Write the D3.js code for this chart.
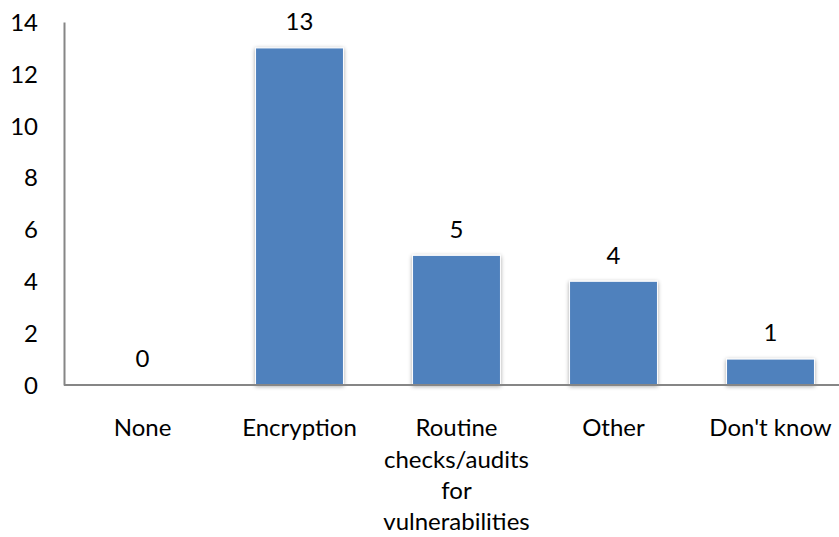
<!DOCTYPE html>
<html><head><meta charset="utf-8">
<script src="https://cdn.jsdelivr.net/npm/d3@7"></script>
<style>body{margin:0;background:#fff}svg{display:block}text{font-family:Lato,"Open Sans",sans-serif;fill:#000}</style>
</head><body>
<script>
const categories = ["None", "Encryption", "Routine checks/audits for vulnerabilities", "Other", "Don't know"];
const categoryLines = [["None"], ["Encryption"], ["Routine", "checks/audits", "for", "vulnerabilities"], ["Other"], ["Don't know"]];
const values = [0, 13, 5, 4, 1];
const yTicks = [0, 2, 4, 6, 8, 10, 12, 14];

const W = 839, H = 537, FS = "24px";
const svg = d3.select("body").append("svg").attr("width", W).attr("height", H);
const defs = svg.append("defs");
const f = defs.append("filter").attr("id", "sh").attr("x", "-20%").attr("y", "-20%").attr("width", "140%").attr("height", "140%");
f.append("feGaussianBlur").attr("in", "SourceAlpha").attr("stdDeviation", 2.2).attr("result", "b");
f.append("feOffset").attr("in", "b").attr("dx", 0).attr("dy", 1).attr("result", "o");
f.append("feComponentTransfer").attr("in", "o").attr("result", "o2").append("feFuncA").attr("type", "linear").attr("slope", 0.35);
const m = f.append("feMerge"); m.append("feMergeNode").attr("in", "o2"); m.append("feMergeNode").attr("in", "SourceGraphic");

const x = d3.scaleBand().domain(categories).range([64, 849]).paddingInner(0.44).paddingOuter(0.22);
const y = d3.scaleLinear().domain([0, 14]).range([385, 22]);

svg.append("g").selectAll("rect").data(values).join("rect")
  .attr("x", (d, i) => x(categories[i]))
  .attr("y", d => y(d))
  .attr("width", x.bandwidth())
  .attr("height", d => y(0) - y(d))
  .attr("fill", "#4F81BD")
  .attr("stroke", "#fff").attr("stroke-width", 1)
  .attr("filter", d => d > 0 ? "url(#sh)" : null);

const yAxis = d3.axisLeft(y).tickValues(yTicks).tickSize(0).tickPadding(26);
const gy = svg.append("g").attr("transform", "translate(64,0)").call(yAxis);
gy.select(".domain").attr("stroke", "#868686").attr("stroke-width", 2);
gy.selectAll("text").style("font-size", FS).attr("dy", "0.35em");

const xAxis = d3.axisBottom(x).tickSize(0).tickFormat("");
const gx = svg.append("g").attr("transform", "translate(0,385)").call(xAxis);
gx.select(".domain").attr("d", "M64,0H839").attr("stroke", "#868686").attr("stroke-width", 2);

const cl = svg.append("g");
categoryLines.forEach((lines, i) => {
  const cx = x(categories[i]) + x.bandwidth() / 2;
  lines.forEach((t, j) => {
    cl.append("text").attr("x", cx).attr("y", 428 + j * 31.3).attr("dy", "0.35em")
      .attr("text-anchor", "middle").style("font-size", FS).text(t);
  });
});

svg.append("g").selectAll("text").data(values).join("text")
  .attr("x", (d, i) => x(categories[i]) + x.bandwidth() / 2)
  .attr("y", d => y(d) - 26).attr("dy", "0.35em")
  .attr("text-anchor", "middle").style("font-size", FS)
  .text(d => d);
</script>
</body></html>
